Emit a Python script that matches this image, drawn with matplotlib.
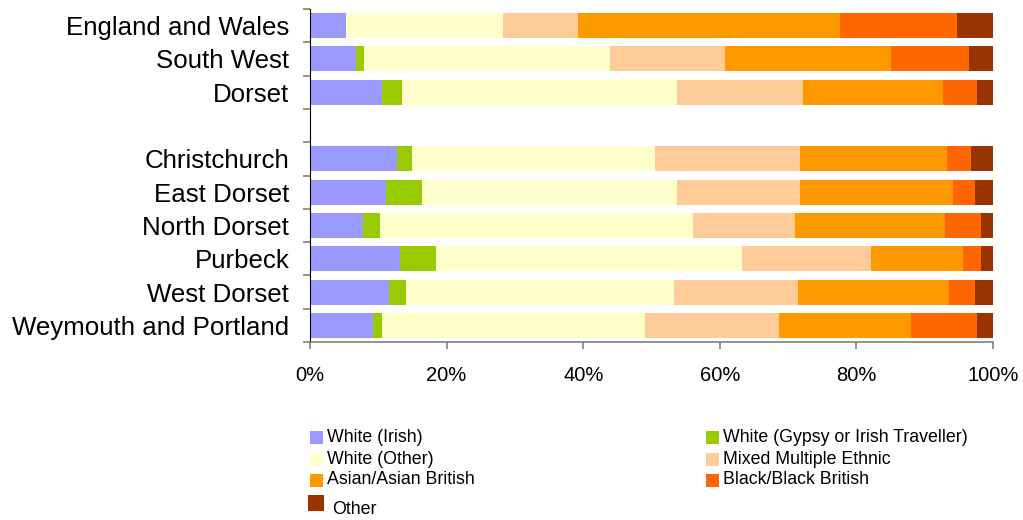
import matplotlib.pyplot as plt
from matplotlib.patches import Rectangle
import numpy as np

plt.rcParams['font.family'] = ['Liberation Sans', 'DejaVu Sans']

# areas, top to bottom ('' leaves an empty row between regions and districts)
areas = ['England and Wales', 'South West', 'Dorset', '',
         'Christchurch', 'East Dorset', 'North Dorset', 'Purbeck',
         'West Dorset', 'Weymouth and Portland']

# share of non-White-British population, % (one value per area, gap row = 0)
white_irish   = [5.2, 6.7, 10.6, 0, 12.8, 11.2, 7.7, 13.2, 11.6, 9.2]
white_gypsy   = [0.1, 1.2, 2.9, 0, 2.1, 5.2, 2.5, 5.2, 2.4, 1.3]
white_other   = [22.9, 36.0, 40.3, 0, 35.6, 37.3, 45.9, 44.9, 39.2, 38.5]
mixed         = [11.0, 16.9, 18.4, 0, 21.2, 18.1, 14.9, 18.9, 18.2, 19.7]
asian         = [38.4, 24.3, 20.5, 0, 21.6, 22.3, 22.0, 13.4, 22.0, 19.3]
black         = [17.1, 11.4, 5.0, 0, 3.5, 3.3, 5.2, 2.6, 3.9, 9.6]
other         = [5.3, 3.5, 2.4, 0, 3.2, 2.6, 1.8, 1.8, 2.6, 2.4]

series = [white_irish, white_gypsy, white_other, mixed, asian, black, other]
names = ['White (Irish)', 'White (Gypsy or Irish Traveller)', 'White (Other)',
         'Mixed Multiple Ethnic', 'Asian/Asian British', 'Black/Black British',
         'Other']
colors = ['#9999FF', '#99CC00', '#FFFFCC', '#FFCC99', '#FF9900', '#FF6600',
          '#993300']

fig = plt.figure(figsize=(10.23, 5.2), dpi=100)
ax = fig.add_axes([310/1023, 1 - 342/520, 683/1023, 333/520])

data = np.array(series, dtype=float)
data = data / np.where(data.sum(axis=0) == 0, 1, data.sum(axis=0)) * 100
y = np.arange(len(areas))
left = np.zeros(len(areas))
for vals, c in zip(data, colors):
    ax.barh(y, vals, left=left, height=0.75, color=c, linewidth=0)
    left += vals

ax.set_xlim(0, 100)
ax.set_ylim(len(areas) - 0.5, -0.5)
ax.set_xticks(np.arange(0, 101, 20))
ax.set_xticklabels([f'{v}%' for v in range(0, 101, 20)], fontsize=14.5)
ax.set_yticks(y)
ax.set_yticklabels(areas, fontsize=18.6)
ax.set_yticks(np.arange(-0.5, len(areas)), minor=True)
ax.tick_params(axis='y', which='major', length=0, pad=15)
ax.tick_params(axis='y', which='minor', length=5, color='#808080', width=1.2)
ax.tick_params(axis='x', length=5, color='#808080', width=1.2, pad=12)

for s in ['top', 'right']:
    ax.spines[s].set_visible(False)
ax.spines['left'].set_color('black')
ax.spines['bottom'].set_color('#808080')
ax.spines['bottom'].set_linewidth(1.2)

# legend in two columns below the plot
rows = [437, 459, 480]
slots = [(310, rows[0]), (706, rows[0]), (310, rows[1]), (706, rows[1]),
         (310, rows[2]), (706, rows[2])]
for (x0, yc), name, c in zip(slots, names[:6], colors[:6]):
    fig.add_artist(Rectangle((x0/1023, 1 - (yc + 6.5)/520), 13/1023, 13/520,
                             transform=fig.transFigure, color=c, lw=0))
    fig.text((x0 + 17)/1023, 1 - yc/520, name, fontsize=12.8, va='center')
fig.add_artist(Rectangle((308/1023, 1 - 511/520), 16/1023, 16/520,
                         transform=fig.transFigure, color=colors[6], lw=0))
fig.text(332/1023, 1 - 510/520, names[6], fontsize=12.8, va='center')

fig.savefig('out.png', dpi=100)
